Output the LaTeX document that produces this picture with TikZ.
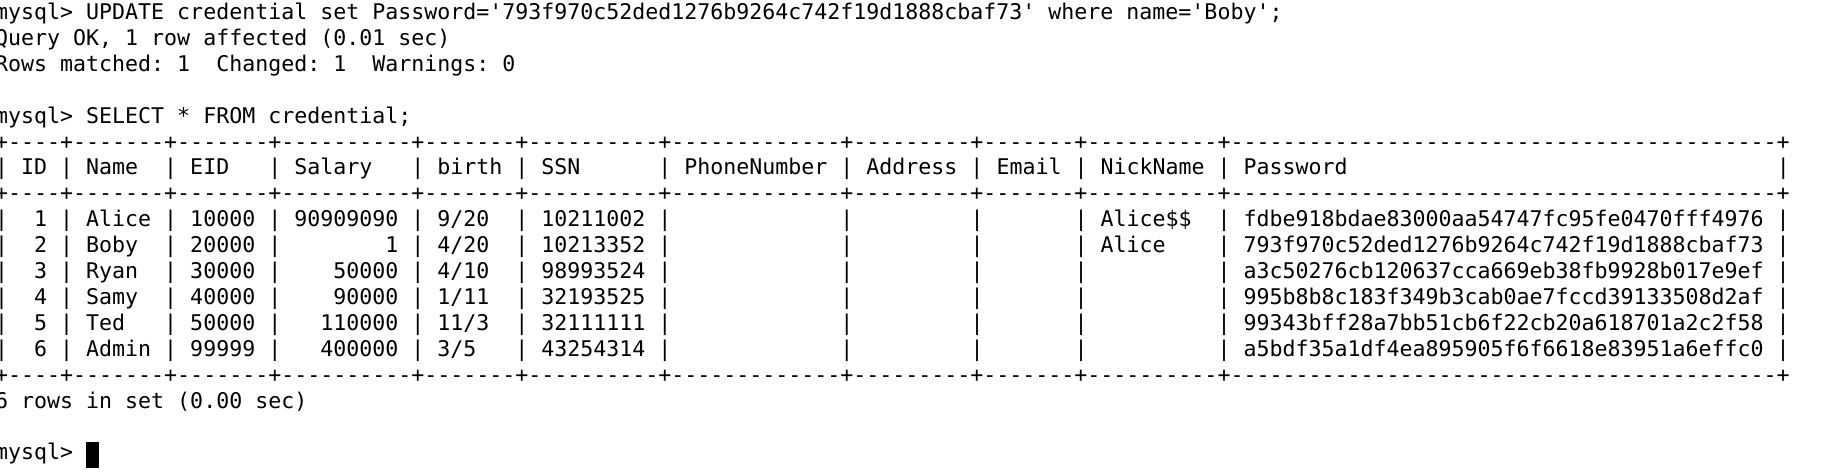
\documentclass[tikz,border=0pt]{standalone}
\usepackage{fontspec}
\setmonofont{DejaVu Sans Mono}
\usepackage{xcolor}

\newcommand\termfont{\ttfamily\fontsize{21.6}{26}\selectfont\frenchspacing}

% terminal lines, spaces kept as they are
\begingroup
\obeyspaces%
\gdef\cmdupdate{mysql> UPDATE credential set Password='793f970c52ded1276b9264c742f19d1888cbaf73' where name='Boby';}%
\gdef\msgok{Query OK, 1 row affected (0.01 sec)}%
\gdef\msgrows{Rows matched: 1  Changed: 1  Warnings: 0}%
\gdef\cmdselect{mysql> SELECT * FROM credential;}%
\gdef\tblrule{+----+-------+-------+----------+-------+----------+-------------+---------+-------+----------+------------------------------------------+}%
\gdef\tblhead{| ID | Name  | EID   | Salary   | birth | SSN      | PhoneNumber | Address | Email | NickName | Password                                 |}%
\gdef\rowone{|  1 | Alice | 10000 | 90909090 | 9/20  | 10211002 |             |         |       | Alice\$\$  | fdbe918bdae83000aa54747fc95fe0470fff4976 |}%
\gdef\rowtwo{|  2 | Boby  | 20000 |        1 | 4/20  | 10213352 |             |         |       | Alice    | 793f970c52ded1276b9264c742f19d1888cbaf73 |}%
\gdef\rowthree{|  3 | Ryan  | 30000 |    50000 | 4/10  | 98993524 |             |         |       |          | a3c50276cb120637cca669eb38fb9928b017e9ef |}%
\gdef\rowfour{|  4 | Samy  | 40000 |    90000 | 1/11  | 32193525 |             |         |       |          | 995b8b8c183f349b3cab0ae7fccd39133508d2af |}%
\gdef\rowfive{|  5 | Ted   | 50000 |   110000 | 11/3  | 32111111 |             |         |       |          | 99343bff28a7bb51cb6f22cb20a618701a2c2f58 |}%
\gdef\rowsix{|  6 | Admin | 99999 |   400000 | 3/5   | 43254314 |             |         |       |          | a5bdf35a1df4ea895905f6f6618e83951a6effc0 |}%
\gdef\msgset{6 rows in set (0.00 sec)}%
\gdef\prompt{mysql>}%
\endgroup

\begin{document}
\begin{tikzpicture}[x=1pt,y=-1pt,
	termline/.style={anchor=base west,inner sep=0pt,font=\termfont}]
	% We will draw the terminal screen here
	\fill[white] (0,0) rectangle (1831,475);
	\useasboundingbox (0,0) rectangle (1831,475);
	
	% the update
	\node[termline] (update) at (-5,19.5) {\cmdupdate};
	\node[termline] (ok) at (-5,45.4) {\msgok};
	\node[termline] (matched) at (-5,71.3) {\msgrows};
	
	% the select and its table
	\node[termline] (select) at (-5,123.1) {\cmdselect};
	\node[termline] (ruletop) at (-5,149.0) {\tblrule};
	\node[termline] (head) at (-5,174.9) {\tblhead};
	\node[termline] (rulemid) at (-5,200.8) {\tblrule};
	\node[termline] (alice) at (-5,226.7) {\rowone};
	\node[termline] (boby) at (-5,252.6) {\rowtwo};
	\node[termline] (ryan) at (-5,278.5) {\rowthree};
	\node[termline] (samy) at (-5,304.4) {\rowfour};
	\node[termline] (ted) at (-5,330.3) {\rowfive};
	\node[termline] (admin) at (-5,356.2) {\rowsix};
	\node[termline] (rulebot) at (-5,382.1) {\tblrule};
	\node[termline] (inset) at (-5,408.0) {\msgset};
	
	% prompt with the cursor, one blank after it
	\node[termline] (prompt) at (-5,459.8) {\prompt};
	\fill ([xshift=13pt]prompt.base east) ++(0,-18) rectangle ++(13,26.5);
\end{tikzpicture}
\end{document}
